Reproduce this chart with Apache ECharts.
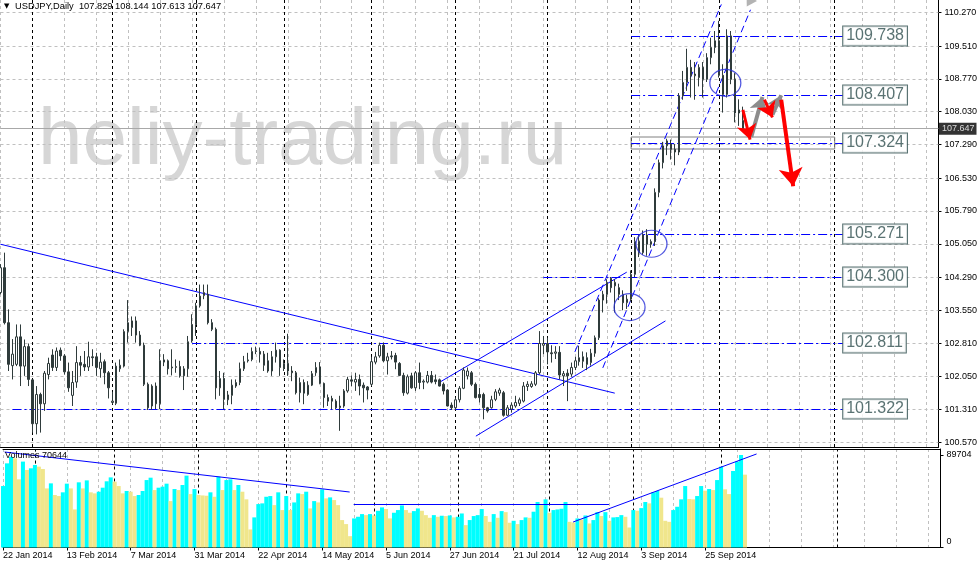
<!DOCTYPE html>
<html><head><meta charset="utf-8">
<script src="https://cdn.jsdelivr.net/npm/echarts@6/dist/echarts.min.js"></script>
<style>html,body{margin:0;padding:0;background:#fff}#c{width:980px;height:566px}</style>
</head><body><div id="c"></div><script>
// ---------------- data ----------------
const tickLabels = ['22 Jan 2014','13 Feb 2014','7 Mar 2014','31 Mar 2014','22 Apr 2014','14 May 2014','5 Jun 2014','27 Jun 2014','21 Jul 2014','12 Aug 2014','3 Sep 2014','25 Sep 2014'];
const priceTicks = [110.270,109.510,108.770,108.030,107.290,106.530,105.790,105.050,104.290,103.550,102.810,102.050,101.310,100.570];
const volumeTicks = [0, 89704];

const open = [103.95,104.51,103.27,102.30,102.33,102.95,102.29,102.73,101.98,100.99,
101.65,101.44,102.10,102.54,102.26,102.65,102.52,102.16,101.63,101.93,
102.37,102.33,102.27,102.50,102.50,102.23,102.39,102.14,101.47,101.45,
102.23,102.29,103.07,103.16,103.31,102.99,102.76,101.88,101.39,101.84,
101.44,102.38,102.41,102.25,102.26,102.28,102.07,102.23,102.86,103.23,
103.65,103.88,103.91,103.27,103.12,101.80,102.01,101.53,101.63,101.84,
101.92,102.23,102.41,102.44,102.62,102.62,102.56,102.41,102.18,102.50,
102.65,102.24,102.35,102.18,102.14,101.69,101.92,101.65,101.86,102.14,
102.27,101.90,101.58,101.56,101.50,101.35,101.39,101.73,101.98,101.93,
101.99,101.86,101.82,101.88,102.38,102.52,102.76,102.41,102.52,102.53,
102.35,102.08,101.68,102.07,101.80,102.14,101.93,101.93,102.08,101.98,
101.98,101.88,101.75,101.41,101.35,101.53,101.79,102.07,102.14,101.88,
101.65,101.65,101.35,101.35,101.54,101.68,101.69,101.18,101.32,101.39,
101.45,101.50,101.83,101.83,101.88,102.14,102.76,102.80,102.59,102.58,
102.60,102.07,102.13,102.11,102.26,102.39,102.50,102.48,102.37,102.58,
102.93,103.78,103.91,104.27,104.10,104.06,103.91,103.72,103.80,104.36,
105.10,104.85,105.25,105.04,105.10,106.21,106.88,107.26,107.30,107.18,
107.12,108.39,108.69,109.03,108.84,108.80,109.03,108.76,109.25,109.48,
109.63,108.85,108.42,109.74,108.76,108.00,107.829];
const high = [104.59,104.85,103.57,102.90,103.23,103.23,102.89,102.80,102.00,101.84,
101.69,102.18,102.48,102.67,102.71,102.71,102.56,102.37,102.18,102.74,
102.52,102.63,102.84,102.67,102.59,102.59,102.44,102.18,101.71,102.37,
102.44,103.12,103.78,103.41,103.41,103.08,102.82,101.92,101.88,101.92,
102.67,102.56,102.44,102.67,102.44,102.41,102.29,102.97,103.46,103.72,
104.13,104.13,104.13,103.35,103.16,102.18,102.14,101.73,101.99,101.99,
102.37,102.52,102.59,102.71,102.73,102.71,102.63,102.59,102.63,102.82,
102.67,102.44,103.02,102.29,102.18,102.03,101.99,101.95,102.18,102.38,
102.38,101.92,101.65,101.62,101.54,101.62,101.77,102.05,102.08,102.14,
102.10,101.92,101.84,102.50,102.61,102.82,102.82,102.59,102.63,102.59,
102.38,102.14,102.10,102.14,102.18,102.37,101.99,102.18,102.18,102.10,
102.01,101.92,101.77,101.47,101.58,101.84,102.26,102.26,102.18,101.92,
101.80,101.69,101.37,101.62,101.77,101.80,101.73,101.41,101.47,101.62,
101.58,101.93,101.95,101.95,102.18,103.08,102.97,102.93,102.76,102.74,
102.74,102.18,102.22,102.37,102.50,102.75,102.62,102.60,102.68,102.98,
103.82,103.99,104.25,104.30,104.25,104.15,104.00,103.90,104.45,105.20,
105.25,105.35,105.38,105.15,106.30,106.95,107.35,107.42,107.40,107.30,
108.45,108.95,109.45,109.20,109.15,109.10,109.15,109.35,109.70,109.85,
110.08,109.10,109.89,109.85,108.90,108.31,108.144];
const low = [103.91,103.23,102.18,101.99,102.29,101.84,102.07,101.84,100.79,100.75,
100.79,101.28,101.99,102.18,102.18,102.41,102.10,101.71,101.39,101.80,
102.07,102.18,102.18,102.29,102.07,102.03,101.88,101.56,101.43,101.41,
102.16,102.26,102.82,102.97,102.82,102.74,101.84,101.30,101.30,101.32,
101.32,102.29,102.10,102.08,102.14,102.03,101.75,102.05,102.82,102.97,
103.61,103.80,103.23,103.08,101.54,101.62,101.32,101.41,101.43,101.80,
101.86,102.18,102.37,102.40,102.56,102.37,102.18,102.14,102.07,102.37,
102.07,102.18,102.07,101.95,101.65,101.47,101.43,101.62,101.84,102.07,
101.88,101.35,101.39,101.32,101.32,100.83,101.35,101.69,101.84,101.73,
101.63,101.47,101.54,101.84,102.33,102.48,102.38,102.10,102.44,102.22,
102.07,101.62,101.65,101.78,101.73,101.77,101.77,101.90,101.90,101.88,
101.83,101.65,101.38,101.30,101.30,101.47,101.77,101.99,101.84,101.56,
101.47,101.09,101.24,101.33,101.50,101.62,101.15,101.17,101.24,101.35,
101.39,101.47,101.73,101.80,101.84,102.10,102.56,102.33,102.37,102.45,
101.99,101.84,101.50,102.05,102.20,102.30,102.25,102.20,102.30,102.50,
102.88,103.50,103.70,103.95,103.50,103.78,103.55,103.58,103.75,104.30,
104.75,104.80,104.78,104.96,105.00,106.10,106.75,107.05,106.95,106.82,
107.05,108.30,108.50,108.35,108.30,108.60,108.35,108.70,109.10,109.35,
108.80,108.01,108.35,108.65,107.79,107.71,107.613];
const close = [104.51,103.27,102.33,102.56,102.95,102.29,102.73,101.99,100.99,101.65,
101.44,102.13,102.35,102.26,102.63,102.52,102.16,101.80,101.92,102.37,
102.31,102.27,102.50,102.48,102.26,102.38,102.14,101.80,101.50,102.29,
102.31,103.07,103.27,103.31,102.99,102.76,101.88,101.35,101.84,101.44,
102.41,102.43,102.23,102.27,102.28,102.07,102.23,102.84,103.23,103.65,
103.87,103.95,103.27,103.12,101.80,102.01,101.54,101.64,101.86,101.92,
102.23,102.39,102.43,102.62,102.63,102.56,102.31,102.18,102.50,102.65,
102.26,102.35,102.18,102.14,101.69,101.92,101.68,101.86,102.12,102.26,
101.90,101.58,101.50,101.50,101.35,101.39,101.73,101.99,101.95,101.99,
101.84,101.80,101.75,102.39,102.50,102.76,102.41,102.50,102.50,102.38,
102.08,101.69,102.05,101.80,102.14,101.92,101.95,102.08,101.93,101.94,
101.84,101.73,101.39,101.35,101.53,101.79,102.20,102.18,101.88,101.58,
101.58,101.35,101.28,101.53,101.71,101.75,101.18,101.35,101.41,101.47,
101.53,101.84,101.88,101.89,102.14,102.80,102.80,102.61,102.57,102.61,
102.09,102.12,102.07,102.26,102.41,102.48,102.40,102.33,102.58,102.93,
103.78,103.91,104.18,104.06,104.18,103.91,103.72,103.80,104.36,105.10,
104.85,105.25,105.04,105.10,106.21,106.88,107.26,107.37,107.18,107.12,
108.39,108.69,109.03,108.84,108.88,109.03,108.76,109.25,109.48,109.63,
108.85,108.42,109.74,108.76,108.00,108.07,107.647];
const volume = [59600,81600,88000,86500,66100,83300,75200,76800,80000,78400,
76100,57300,62200,50900,49900,53500,61900,57300,36900,63200,
57300,65100,53500,52500,54100,58000,64200,68000,63800,59600,
52500,54800,54100,49900,50900,54800,65400,67700,55700,58000,
59000,61900,45000,56700,55700,60600,69700,51800,56700,50900,
50500,50200,53500,49200,68700,55700,65400,66100,55700,60600,
54100,46700,17500,29200,42100,42800,49200,49900,41100,53500,
36300,49900,36300,43700,52500,51800,54100,37900,45000,43700,
56400,47600,48600,46000,41100,26600,22700,11000,28200,29800,
32400,31400,32400,31100,35600,38900,37300,28200,33700,36300,
40800,36300,33700,35300,37900,35600,31400,28800,31400,29800,
30800,30500,31100,29200,29800,33000,21700,26600,30500,31400,
37300,30500,24900,32400,28800,35300,34300,24000,25900,22700,
26600,29200,28800,34700,44100,41100,46700,33700,36300,36900,
37600,44100,24900,24300,28200,27200,31100,23300,26600,34300,
30500,34300,25900,29200,29500,31400,29800,19400,36300,35600,
38200,44100,42800,53500,54800,48300,25900,24900,36300,39500,
46700,59600,47000,46700,49900,59600,55100,56700,55700,65400,
78400,56400,51800,74200,83300,89704,70644];

// horizontal levels (price) and the bar where each starts
const levels      = [109.738,108.407,107.324,105.271,104.300,102.811,101.322];
const levelStarts = [158,158,158,158,136,48,3];
const levelEnd    = 211;
const bidPrice    = 107.647;
const monthSeparators = [8,28,49,71,93,114,137,158,180,209];
// zone rectangle [bar0, bar1, priceTop, priceBottom]
const zoneRect = [158, 209, 107.459, 107.188];
// trend lines: [[bar, price],[bar, price]]
const solidTrends = [
  [[0, 105.04],[153.9, 101.68]],
  [[110.1, 101.93],[156.9, 104.41]],
  [[119.1, 100.71],[166.6, 103.31]]
];
const dashedTrends = [
  [[143.9, 102.61],[180.6, 110.45]],
  [[150.9, 102.25],[187.9, 110.33]]
];
const circles = [[157.6, 103.62],[163.1, 105.05],[181.6, 108.68]];
const redArrows  = [[[186.0,108.07],[187.8,107.40]], [[191.4,108.30],[193.4,107.90]]];
const bigRedArrow = [[[195.6,108.30],[198.6,106.35]]];
const grayArrows = [[[188.1,107.46],[190.9,108.36]], [[193.4,107.96],[195.6,108.40]]];
const topMarker = [[187.6, 110.50]];
// volume trend lines: [[bar, volume],[bar, volume]]
const volTrends = [
  [[0.4, 92600],[86.9, 53800]],
  [[87.9, 42200],[151.9, 42200]],
  [[142.9, 24700],[188.9, 90700]]
];

// ---------------- chart ----------------
const CYAN='#00FFFF', KHAKI='#F0E68C', BLUE='#0000FF', CANDLE='#2F3B3B', GRIDC='#C0C0C0';
const FONT='"Liberation Sans", Arial, sans-serif';
const Y_MIN=100.465, Y_MAX=110.55, V_MAX=95520, SLOTS=236, XMAX=SLOTS-1;
const cats = Array.from({length:SLOTS}, (_, i) => String(i));
const nBars = open.length;
const candleData = open.map((o,i)=>[o, close[i], low[i], high[i]]);
const volData = volume.map((v,i)=>({value:v, itemStyle:{color: (i>0 && v<volume[i-1]) ? KHAKI : CYAN}}));

function seg(coords, style, xi, yi, extra){
  return Object.assign({
    type:'lines', coordinateSystem:'cartesian2d', xAxisIndex:xi, yAxisIndex:yi,
    polyline:false, silent:true, z:3, animation:false,
    lineStyle: Object.assign({opacity:1, curveness:0}, style),
    data: coords.map(c=>({coords:c}))
  }, extra||{});
}

const series = [
  seg(priceTicks.map(p=>[[0,p],[XMAX,p]]), {color:GRIDC, width:1, type:[3,3]}, 2, 0, {z:1}),
  seg(monthSeparators.map(b=>[[b,Y_MIN],[b,Y_MAX]]), {color:'#000', width:1, type:[3,3]}, 2, 0, {z:1}),
  seg(monthSeparators.map(b=>[[b,0],[b,V_MAX]]), {color:'#000', width:1, type:[3,3]}, 3, 1, {z:1}),
  seg([[[0,bidPrice],[XMAX,bidPrice]]], {color:'#A8A8A8', width:1}, 2, 0, {z:2}),
  seg([[[zoneRect[0],zoneRect[2]],[zoneRect[1],zoneRect[2]],[zoneRect[1],zoneRect[3]],[zoneRect[0],zoneRect[3]],[zoneRect[0],zoneRect[2]]]],
      {color:'#808080', width:1}, 2, 0, {polyline:true, z:2}),
  seg(levels.map((l,i)=>[[levelStarts[i],l],[levelEnd,l]]), {color:BLUE, width:1, type:[9,3,2,3]}, 2, 0, {z:3}),
  seg(solidTrends, {color:BLUE, width:1}, 2, 0, {z:3}),
  seg(dashedTrends, {color:BLUE, width:1, type:[7,4]}, 2, 0, {z:3, clip:true}),
  {type:'candlestick', xAxisIndex:0, yAxisIndex:0, data:candleData, barWidth:2, z:4, animation:false,
   itemStyle:{color:'#FFFFFF', color0:CANDLE, borderColor:CANDLE, borderColor0:CANDLE, borderWidth:1}},
  {type:'scatter', xAxisIndex:2, yAxisIndex:0, data:circles, symbol:'circle', symbolSize:[31,27], z:5, silent:true, animation:false,
   itemStyle:{color:'rgba(0,0,0,0)', borderColor:'#2830D8', borderWidth:1.2}},
  seg(grayArrows, {color:'#8C8C8C', width:4}, 2, 0, {z:6, symbol:['none','arrow'], symbolSize:[0,14], itemStyle:{color:'#8C8C8C'}}),
  seg(redArrows, {color:'#FF0000', width:3}, 2, 0, {z:7, symbol:['none','arrow'], symbolSize:[0,15], itemStyle:{color:'#FF0000'}}),
  seg(bigRedArrow, {color:'#FF0000', width:4}, 2, 0, {z:7, symbol:['none','arrow'], symbolSize:[0,18], itemStyle:{color:'#FF0000'}}),
  {type:'scatter', xAxisIndex:2, yAxisIndex:0, data:topMarker, symbol:'triangle', symbolRotate:150, symbolSize:[12,10], z:6, silent:true,
   animation:false, itemStyle:{color:'#A0A0A0'}},
  {type:'scatter', xAxisIndex:2, yAxisIndex:0, data:levels.map(l=>[levelEnd,l]), symbolSize:1, clip:false, z:8, silent:true, animation:false,
   itemStyle:{color:'rgba(0,0,0,0)'},
   label:{show:true, position:'right', distance:0, formatter:p=>p.value[1].toFixed(3), fontFamily:FONT, fontSize:16,
          color:'#2F4F4F', backgroundColor:'#FFFFFF', borderColor:'#2F4F4F', borderWidth:1, padding:[2,3,1,3]}},
  {type:'scatter', xAxisIndex:2, yAxisIndex:0, data:[[XMAX,bidPrice]], symbolSize:1, clip:false, z:8, silent:true, animation:false,
   itemStyle:{color:'rgba(0,0,0,0)'},
   label:{show:true, position:'right', distance:0, formatter:p=>p.value[1].toFixed(3), fontFamily:FONT, fontSize:9,
          color:'#FFFFFF', backgroundColor:'#000000', padding:[2,2,1,3]}},
  {type:'bar', xAxisIndex:1, yAxisIndex:1, data:volData, barWidth:4, z:3, animation:false},
  seg(volTrends, {color:BLUE, width:1}, 3, 1, {z:4})
];

const axisFont = {fontFamily:FONT, fontSize:9, color:'#000'};
const option = {
  animation:false,
  backgroundColor:'#FFFFFF',
  grid:[
    {left:0.5, right:39.5, top:0, height:447},
    {left:0.5, right:39.5, top:449, height:98.5}
  ],
  xAxis:[
    {type:'category', gridIndex:0, data:cats, boundaryGap:false,
     axisLine:{show:true, onZero:false, lineStyle:{color:'#000'}}, axisTick:{show:false}, axisLabel:{show:false},
     splitLine:{show:true, interval:(i)=>i%8===0, lineStyle:{color:GRIDC, type:[3,3]}}},
    {type:'category', gridIndex:1, data:cats, boundaryGap:false,
     axisLine:{show:true, onZero:false, lineStyle:{color:'#000'}},
     axisTick:{show:true, length:3, interval:(i)=>i%16===0 && i<nBars, lineStyle:{color:'#000'}},
     axisLabel:Object.assign({show:true, interval:(i)=>i%16===0 && i<nBars, align:'left', margin:4,
       formatter:(v,i)=>tickLabels[Math.round(i/16)] || ''}, axisFont),
     splitLine:{show:true, interval:(i)=>i%8===0, lineStyle:{color:GRIDC, type:[3,3]}}},
    {type:'value', gridIndex:0, min:0, max:XMAX, show:false},
    {type:'value', gridIndex:1, min:0, max:XMAX, show:false},
    {type:'category', gridIndex:1, data:cats, boundaryGap:false, position:'top',
     axisLine:{show:true, onZero:false, lineStyle:{color:'#000'}}, axisTick:{show:false}, axisLabel:{show:false}, splitLine:{show:false}}
  ],
  yAxis:[
    {type:'value', gridIndex:0, position:'right', min:Y_MIN, max:Y_MAX,
     axisLine:{show:true, onZero:false, lineStyle:{color:'#000'}},
     axisTick:{show:true, length:3, customValues:priceTicks, lineStyle:{color:'#000'}},
     axisLabel:Object.assign({customValues:priceTicks, margin:6, formatter:v=>v.toFixed(3)}, axisFont),
     splitLine:{show:false}},
    {type:'value', gridIndex:1, position:'right', min:0, max:V_MAX,
     axisLine:{show:true, onZero:false, lineStyle:{color:'#000'}},
     axisTick:{show:true, length:3, customValues:volumeTicks, lineStyle:{color:'#000'}},
     axisLabel:Object.assign({customValues:volumeTicks, margin:6,
       formatter:v=>v===0 ? '{z|0}' : String(v), rich:{z:{fontFamily:FONT, fontSize:9, color:'#000', padding:[0,0,12,0]}}}, axisFont),
     splitLine:{show:false}}
  ],
  graphic:[
    {type:'text', left:38, top:102, z:0, silent:true,
     style:{text:'heliy-trading.ru', font:'80px "Liberation Sans", Arial, sans-serif', fill:'#D6D6D6'}},
    {type:'text', left:4, top:3, z:100, silent:true, style:{text:'\u25BC', font:'7px "DejaVu Sans", sans-serif', fill:'#000'}},
    {type:'text', left:15, top:2, z:100, silent:true,
     style:{text:'USDJPY,Daily  ' + [open[nBars-1],high[nBars-1],low[nBars-1],close[nBars-1]].map(v=>v.toFixed(3)).join(' '),
            font:'9.3px "Liberation Sans", Arial, sans-serif', fill:'#000'}},
    {type:'text', left:5, top:451, z:100, silent:true,
     style:{text:'Volumes ' + volume[nBars-1], font:'9px "Liberation Sans", Arial, sans-serif', fill:'#000'}}
  ],
  series: series
};
const chart = echarts.init(document.getElementById('c'), null, {renderer:'canvas'});
chart.setOption(option);
</script></body></html>
